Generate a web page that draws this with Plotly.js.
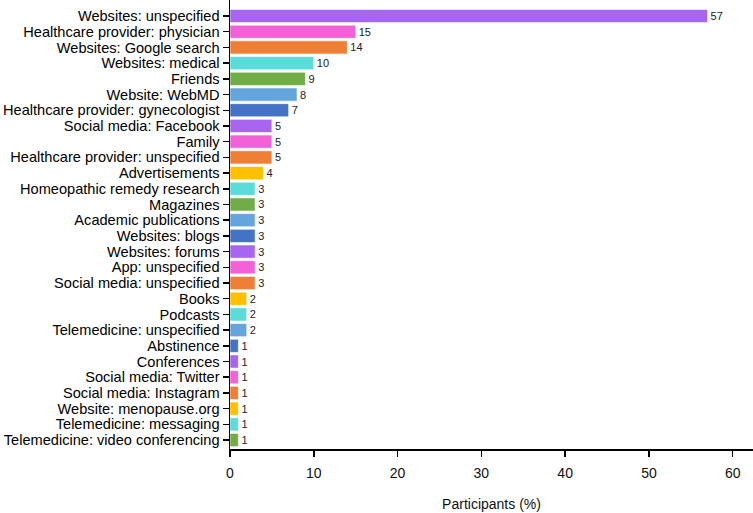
<!DOCTYPE html>
<html><head><meta charset="utf-8">
<script src="https://cdn.plot.ly/plotly-3.0.1.min.js"></script>
<style>html,body{margin:0;padding:0;background:#fff}</style>
</head><body><div id="chart" style="width:753px;height:513px"></div>
<script>
const categories = [
  "Websites: unspecified","Healthcare provider: physician","Websites: Google search","Websites: medical",
  "Friends","Website: WebMD","Healthcare provider: gynecologist","Social media: Facebook","Family",
  "Healthcare provider: unspecified","Advertisements","Homeopathic remedy research","Magazines",
  "Academic publications","Websites: blogs","Websites: forums","App: unspecified","Social media: unspecified",
  "Books","Podcasts","Telemedicine: unspecified","Abstinence","Conferences","Social media: Twitter",
  "Social media: Instagram","Website: menopause.org","Telemedicine: messaging","Telemedicine: video conferencing"
];
const values = [57,15,14,10,9,8,7,5,5,5,4,3,3,3,3,3,3,3,2,2,2,1,1,1,1,1,1,1];
const xTicks = [0,10,20,30,40,50,60];
const P="#A865F0",K="#F261D8",O="#EE7F35",C="#5ADCDB",G="#70AD47",L="#64A6DC",D="#4472C4",Y="#FFC000";
const barColors = [P,K,O,C,G,L,D,P,K,O,Y,C,G,L,D,P,K,O,Y,C,L,D,P,K,O,Y,C,G];

const trace = {
  type:"bar", orientation:"h", x:values, y:categories,
  marker:{color:barColors, line:{color:"rgba(255,255,255,0.6)", width:1}},
  width:0.84,
  text:values.map(String), textposition:"outside", cliponaxis:false,
  textfont:{family:"Liberation Sans, Arial, sans-serif", size:11, color:"#222"},
  hoverinfo:"x+y"
};
const layout = {
  width:753, height:513,
  margin:{l:230, r:0, t:0, b:64},
  paper_bgcolor:"#fff", plot_bgcolor:"#fff",
  showlegend:false,
  font:{family:"Liberation Sans, Arial, sans-serif", color:"#111"},
  xaxis:{
    range:[0,62.42], tickmode:"array", tickvals:xTicks, showgrid:false, zeroline:false,
    showline:true, linecolor:"#000", linewidth:1.5,
    ticks:"outside", ticklen:6, tickwidth:1.5, tickcolor:"#000",
    ticklabelstandoff:5,
    tickfont:{size:14, color:"#111"},
    title:{text:"Participants (%)", font:{size:14, color:"#111"}, standoff:19}
  },
  yaxis:{
    type:"category", range:[27.57,-1.02], tickmode:"array", tickvals:categories, ticktext:categories,
    showgrid:false, zeroline:false,
    showline:true, linecolor:"#000", linewidth:1.5,
    ticks:"outside", ticklen:6, tickwidth:1.5, tickcolor:"#000",
    tickfont:{size:14.6, color:"#000"}
  }
};
Plotly.newPlot("chart",[trace],layout,{displayModeBar:false,staticPlot:true});
</script></body></html>
